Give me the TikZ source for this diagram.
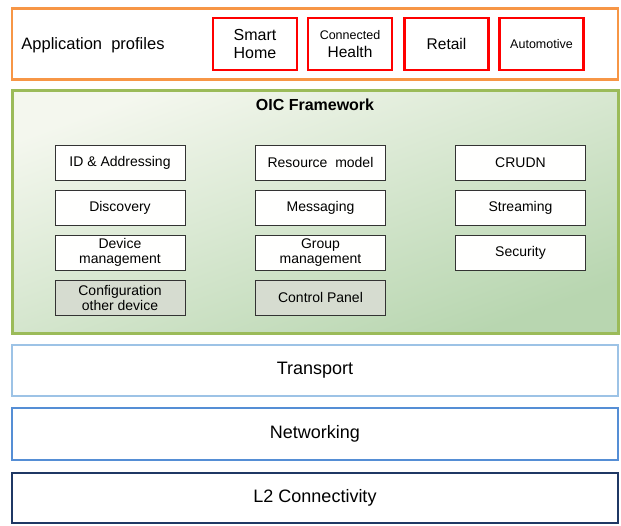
\documentclass[tikz,border=0pt]{standalone}
\usepackage{fontspec}
\setmainfont{Liberation Sans}
\definecolor{profileorange}{RGB}{247,150,70}
\definecolor{profilered}{RGB}{255,0,0}
\definecolor{oicgreen}{RGB}{155,187,89}
\definecolor{oiclight}{RGB}{244,247,238}
\definecolor{oicdark}{RGB}{184,214,176}
\definecolor{blockgray}{RGB}{214,220,208}
\definecolor{transportblue}{RGB}{157,195,230}
\definecolor{netblue}{RGB}{85,142,213}
\definecolor{l2navy}{RGB}{31,56,100}

\begin{document}
\begin{tikzpicture}[x=1pt, y=-1pt,
  layer/.style={draw, line width=2.5pt, fill=white, minimum width=606pt, inner sep=0pt},
  profile/.style={draw=profilered, line width=2.5pt, fill=white, minimum width=84pt, minimum height=52pt, align=center, inner sep=0pt},
  block/.style={draw=black!80, line width=1pt, fill=white!96!oiclight, minimum width=130pt, minimum height=35pt, align=center, inner sep=0pt, font=\fontsize{14}{15}\selectfont},
  darkblock/.style={block, fill=blockgray}]
\useasboundingbox (0,0) rectangle (621,525);

% application profiles
\node[layer, draw=profileorange, minimum height=71pt] (apps) at (315,44) {};
\node[font=\fontsize{16.5}{18}\selectfont] (appslabel) at (93,45) {Application\ \ profiles};
\node[profile, font=\fontsize{16}{18}\selectfont] (smarthome) at (255,44) {Smart\\Home};
\node[profile, font=\fontsize{15.5}{18}\selectfont] (health) at (350,44) {{\fontsize{12.5}{14}\selectfont Connected}\\Health};
\node[profile, font=\fontsize{15.5}{18}\selectfont] (retail) at (446.5,44) {Retail};
\node[profile, font=\fontsize{12.5}{14}\selectfont] (auto) at (541.5,44) {Automotive};

% OIC framework
\node[layer, draw=oicgreen, line width=3pt, top color=oiclight, bottom color=oicdark, shading angle=20, minimum height=243pt] (oic) at (315,211.5) {};
\node[font=\bfseries\fontsize{16}{18}\selectfont] (oiclabel) at (315,105) {OIC Framework};

\node[block] (id)      at (120,162.5) {ID \& Addressing};
\node[block] (disc)    at (120,208)   {Discovery};
\node[block] (devmgmt) at (120,252.5) {Device\\management};
\node[darkblock] (conf) at (120,297.5) {Configuration\\other device};

\node[block] (res)     at (320.5,162.5) {Resource\ \ model};
\node[block] (msg)     at (320.5,208)   {Messaging};
\node[block] (grpmgmt) at (320.5,252.5) {Group\\management};
\node[darkblock] (panel) at (320.5,297.5) {Control Panel};

\node[block] (crudn)   at (520.5,162.5) {CRUDN};
\node[block] (stream)  at (520.5,208)   {Streaming};
\node[block] (sec)     at (520.5,252.5) {Security};

% lower layers
\node[layer, draw=transportblue, minimum height=51pt, font=\fontsize{18}{20}\selectfont] (transport) at (315,370.5) {Transport};
\node[layer, draw=netblue, minimum height=52pt, font=\fontsize{18}{20}\selectfont] (net) at (315,434) {Networking};
\node[layer, draw=l2navy, minimum height=50pt, font=\fontsize{18}{20}\selectfont] (l2) at (315,498) {L2 Connectivity};
\end{tikzpicture}
\end{document}
